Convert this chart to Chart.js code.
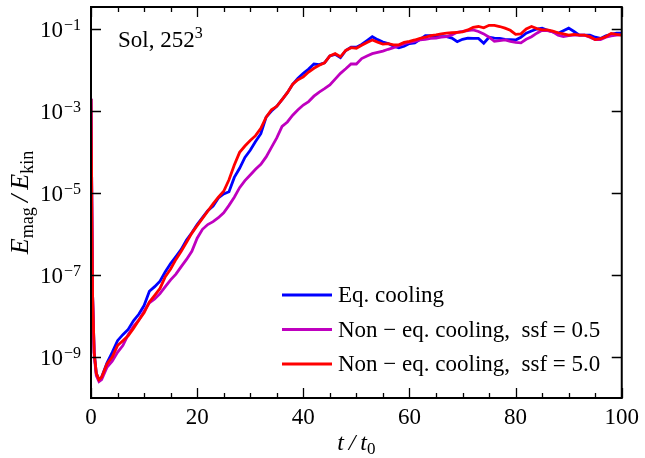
<!DOCTYPE html>
<html>
<head>
<meta charset="utf-8">
<script src="https://cdn.jsdelivr.net/npm/chart.js@4"></script>
<style>
  body { margin: 0; background: #fff; }
  canvas { display: block; }
</style>
</head>
<body>
<canvas id="chart" width="645" height="458"></canvas>
<script>
// t / t0
const times = [0, 0.3, 0.6, 1, 1.5, 2,
  3, 4, 5, 6, 7, 8, 9, 10,
  11, 12, 13, 14, 15, 16, 17, 18, 19, 20,
  21, 22, 23, 24, 25, 26, 27, 28, 29, 30,
  31, 32, 33, 34, 35, 36, 37, 38, 39, 40,
  41, 42, 43, 44, 45, 46, 47, 48, 49, 50,
  51, 52, 53, 54, 55, 56, 57, 58, 59, 60,
  61, 62, 63, 64, 65, 66, 67, 68, 69, 70,
  71, 72, 73, 74, 75, 76, 77, 78, 79, 80,
  81, 82, 83, 84, 85, 86, 87, 88, 89, 90,
  91, 92, 93, 94, 95, 96, 97, 98, 99, 100];

// E_mag / E_kin
const eqCooling = [2.0e-3, 3.2e-8, 1.3e-9, 4.0e-10, 2.8e-10, 3.2e-10,
  7.1e-10, 1.3e-9, 2.5e-9, 3.5e-9, 4.7e-9, 7.6e-9, 1.1e-8, 1.8e-8,
  4.0e-8, 5.2e-8, 7.1e-8, 1.2e-7, 1.9e-7, 2.8e-7, 4.2e-7, 7.1e-7, 1.07e-6, 1.7e-6,
  2.5e-6, 3.7e-6, 4.8e-6, 7.6e-6, 9.5e-6, 1.07e-5, 2.4e-5, 4.0e-5, 7.4e-5, 1.1e-4,
  1.8e-4, 2.8e-4, 7.1e-4, 1.0e-3, 1.3e-3, 1.9e-3, 2.8e-3, 4.5e-3, 6.3e-3, 8.3e-3,
  1.05e-2, 1.4e-2, 1.35e-2, 1.5e-2, 2.2e-2, 2.4e-2, 2.0e-2, 3.0e-2, 3.6e-2, 3.6e-2,
  4.2e-2, 5.2e-2, 6.5e-2, 5.5e-2, 4.8e-2, 4.4e-2, 3.8e-2, 3.5e-2, 3.8e-2, 4.4e-2,
  4.6e-2, 5.6e-2, 6.9e-2, 6.9e-2, 6.6e-2, 6.5e-2, 6.5e-2, 6.0e-2, 4.9e-2, 5.6e-2,
  6.0e-2, 5.9e-2, 5.9e-2, 4.5e-2, 6.3e-2, 6.0e-2, 5.9e-2, 5.6e-2, 5.5e-2, 5.4e-2,
  6.3e-2, 7.9e-2, 8.9e-2, 0.100, 0.105, 9.3e-2, 8.5e-2, 7.9e-2, 9.1e-2, 0.105,
  8.7e-2, 7.1e-2, 7.1e-2, 7.1e-2, 6.3e-2, 5.9e-2, 6.8e-2, 7.4e-2, 7.9e-2, 7.9e-2];

const nonEqSsf05 = [2.0e-3, 3.2e-8, 1.1e-9, 3.5e-10, 2.5e-10, 2.8e-10,
  5.6e-10, 7.9e-10, 1.3e-9, 1.9e-9, 3.5e-9, 5.6e-9, 7.9e-9, 1.3e-8,
  2.1e-8, 2.6e-8, 3.5e-8, 5.2e-8, 7.6e-8, 1.05e-7, 1.6e-7, 2.4e-7, 3.8e-7, 7.9e-7,
  1.3e-6, 1.7e-6, 2.0e-6, 2.5e-6, 3.3e-6, 5.0e-6, 7.9e-6, 1.35e-5, 2.0e-5, 2.75e-5,
  3.8e-5, 5.0e-5, 7.6e-5, 1.3e-4, 2.2e-4, 4.2e-4, 5.4e-4, 7.9e-4, 1.07e-3, 1.4e-3,
  1.7e-3, 2.3e-3, 2.9e-3, 3.5e-3, 4.3e-3, 6.0e-3, 8.3e-3, 1.07e-2, 1.4e-2, 1.4e-2,
  1.9e-2, 2.2e-2, 2.5e-2, 2.7e-2, 2.9e-2, 3.2e-2, 3.5e-2, 3.9e-2, 4.4e-2, 4.7e-2,
  5.0e-2, 5.4e-2, 5.6e-2, 5.9e-2, 6.0e-2, 6.3e-2, 6.5e-2, 7.2e-2, 8.3e-2, 8.7e-2,
  9.1e-2, 9.5e-2, 8.7e-2, 7.6e-2, 6.3e-2, 5.0e-2, 5.2e-2, 5.4e-2, 5.0e-2, 4.7e-2,
  4.6e-2, 5.6e-2, 6.5e-2, 7.9e-2, 9.3e-2, 9.1e-2, 8.5e-2, 7.1e-2, 6.5e-2, 6.9e-2,
  7.1e-2, 7.1e-2, 7.1e-2, 6.3e-2, 5.5e-2, 5.5e-2, 6.3e-2, 6.8e-2, 7.1e-2, 7.2e-2];

const nonEqSsf50 = [2.0e-3, 3.2e-8, 1.3e-9, 4.0e-10, 2.8e-10, 3.2e-10,
  6.8e-10, 1.0e-9, 1.9e-9, 2.5e-9, 3.3e-9, 5.0e-9, 7.9e-9, 1.2e-8,
  2.2e-8, 3.2e-8, 4.7e-8, 9.1e-8, 1.4e-7, 2.4e-7, 3.8e-7, 6.3e-7, 1.05e-6, 1.6e-6,
  2.4e-6, 3.6e-6, 5.4e-6, 7.9e-6, 1.1e-5, 2.1e-5, 4.8e-5, 9.8e-5, 1.4e-4, 1.9e-4,
  2.5e-4, 3.8e-4, 7.1e-4, 1.07e-3, 1.3e-3, 1.9e-3, 2.8e-3, 4.5e-3, 5.8e-3, 6.8e-3,
  8.9e-3, 1.1e-2, 1.3e-2, 1.5e-2, 2.2e-2, 2.5e-2, 2.1e-2, 3.0e-2, 3.5e-2, 3.4e-2,
  4.0e-2, 4.7e-2, 5.4e-2, 4.8e-2, 4.3e-2, 4.4e-2, 4.1e-2, 4.1e-2, 4.7e-2, 5.0e-2,
  5.4e-2, 5.9e-2, 6.3e-2, 6.9e-2, 7.2e-2, 7.6e-2, 7.9e-2, 8.1e-2, 8.3e-2, 8.5e-2,
  9.5e-2, 0.110, 0.115, 0.107, 0.123, 0.123, 0.115, 0.105, 9.3e-2, 7.4e-2,
  7.6e-2, 0.100, 0.115, 0.102, 9.5e-2, 9.5e-2, 8.9e-2, 8.1e-2, 7.6e-2, 7.1e-2,
  7.4e-2, 7.1e-2, 7.1e-2, 6.5e-2, 5.5e-2, 5.8e-2, 6.5e-2, 7.8e-2, 7.4e-2, 7.1e-2];

const seriesLabels = ['Eq. cooling', 'Non \u2212 eq. cooling,  ssf = 0.5', 'Non \u2212 eq. cooling,  ssf = 5.0'];
const seriesColors = ['#0000ff', '#bf00bf', '#ff0000'];

const xTicks = [0, 20, 40, 60, 80, 100];
const yTickValues = [1e-9, 1e-7, 1e-5, 1e-3, 1e-1];
const yTickExponents = ['\u22129', '\u22127', '\u22125', '\u22123', '\u22121'];

const SERIF = '"Liberation Serif", "Times New Roman", serif';

function toPoints(values) {
    return times.map((t, i) => ({ x: t, y: values[i] }));
}

// frame, inward ticks, tick labels with exponents, titles, legend
const decorPlugin = {
    id: 'decor',
    afterDraw(chart) {
        const ctx = chart.ctx;
        const a = chart.chartArea;
        const xs = chart.scales.x;
        const ys = chart.scales.y;
        ctx.save();
        ctx.strokeStyle = '#000';
        ctx.fillStyle = '#000';

        // x ticks (major every 20, minor every 5)
        ctx.lineWidth = 1.3;
        ctx.beginPath();
        for (let v = xs.min; v <= xs.max; v += 5) {
            const px = Math.round(xs.getPixelForValue(v)) + 0.5;
            const len = xTicks.includes(v) ? 10 : 5;
            ctx.moveTo(px, a.bottom); ctx.lineTo(px, a.bottom - len);
            ctx.moveTo(px, a.top); ctx.lineTo(px, a.top + len);
        }
        ys.ticks.forEach(t => {
            const py = Math.round(ys.getPixelForValue(t.value)) + 0.5;
            ctx.moveTo(a.left, py); ctx.lineTo(a.left + 10, py);
            ctx.moveTo(a.right, py); ctx.lineTo(a.right - 10, py);
        });
        ctx.stroke();

        ctx.lineWidth = 2;
        ctx.strokeRect(a.left, a.top, a.right - a.left, a.bottom - a.top);

        // y tick labels: 10^n
        ctx.textBaseline = 'alphabetic';
        ctx.textAlign = 'left';
        ys.ticks.forEach((t, i) => {
            const py = ys.getPixelForValue(t.value);
            const exp = yTickExponents[i];
            ctx.font = '16px ' + SERIF;
            const we = ctx.measureText(exp).width;
            ctx.font = '23px ' + SERIF;
            const wb = ctx.measureText('10').width;
            const right = a.left - 10;
            ctx.fillText('10', right - we - wb - 1, py + 8);
            ctx.font = '16px ' + SERIF;
            ctx.fillText(exp, right - we, py + 1);
        });

        // x title: t / t0
        ctx.font = 'italic 24px ' + SERIF;
        const part1 = 't\u2009/\u2009t';
        const w1 = ctx.measureText(part1).width;
        ctx.font = '17px ' + SERIF;
        const w0 = ctx.measureText('0').width;
        const cx = (a.left + a.right) / 2;
        const sx = cx - (w1 + w0) / 2;
        ctx.font = 'italic 24px ' + SERIF;
        ctx.fillText(part1, sx, 450);
        ctx.font = '17px ' + SERIF;
        ctx.fillText('0', sx + w1, 454);

        // y title: E_mag / E_kin
        ctx.save();
        ctx.translate(28, (a.top + a.bottom) / 2);
        ctx.rotate(-Math.PI / 2);
        const parts = [
            { s: 'E', f: 'italic 26px ' + SERIF, dy: 0 },
            { s: 'mag', f: '18px ' + SERIF, dy: 5 },
            { s: '\u2009/\u2009', f: 'italic 26px ' + SERIF, dy: 0 },
            { s: 'E', f: 'italic 26px ' + SERIF, dy: 0 },
            { s: 'kin', f: '18px ' + SERIF, dy: 5 }
        ];
        let total = 0;
        parts.forEach(p => { ctx.font = p.f; p.w = ctx.measureText(p.s).width; total += p.w; });
        let px = -total / 2;
        parts.forEach(p => { ctx.font = p.f; ctx.fillText(p.s, px, p.dy); px += p.w; });
        ctx.restore();

        // annotation: Sol, 252^3
        ctx.font = '23px ' + SERIF;
        ctx.fillText('Sol, 252', a.left + 27, 47);
        const ws = ctx.measureText('Sol, 252').width;
        ctx.font = '16px ' + SERIF;
        ctx.fillText('3', a.left + 27 + ws, 38);

        // legend
        ctx.font = '23px ' + SERIF;
        ctx.textBaseline = 'middle';
        chart.data.datasets.forEach((ds, i) => {
            const ly = 295 + i * 34.5;
            ctx.strokeStyle = ds.borderColor;
            ctx.lineWidth = 3;
            ctx.beginPath();
            ctx.moveTo(282, ly); ctx.lineTo(332, ly);
            ctx.stroke();
            ctx.fillStyle = '#000';
            ctx.fillText(ds.label, 338, ly + 1);
        });

        ctx.restore();
    }
};

new Chart(document.getElementById('chart'), {
    type: 'line',
    data: {
        datasets: [
            { label: seriesLabels[0], data: toPoints(eqCooling), borderColor: seriesColors[0], order: 2 },
            { label: seriesLabels[1], data: toPoints(nonEqSsf05), borderColor: seriesColors[1], order: 1 },
            { label: seriesLabels[2], data: toPoints(nonEqSsf50), borderColor: seriesColors[2], order: 0 }
        ]
    },
    options: {
        responsive: false,
        animation: false,
        devicePixelRatio: 1,
        layout: { padding: { top: 7, right: 20, left: 0, bottom: 0 } },
        elements: {
            line: { borderWidth: 2.8, tension: 0 },
            point: { radius: 0 }
        },
        plugins: {
            legend: { display: false },
            tooltip: { enabled: false }
        },
        scales: {
            x: {
                type: 'linear',
                min: 0,
                max: 100,
                grid: { display: false, drawTicks: false },
                border: { display: false },
                ticks: {
                    stepSize: 20,
                    padding: 6,
                    color: '#000',
                    font: { family: SERIF, size: 23 }
                },
                afterFit: scale => { scale.height = 60; }
            },
            y: {
                type: 'logarithmic',
                min: 1e-10,
                max: 0.344,
                grid: { display: false, drawTicks: false },
                border: { display: false },
                ticks: { display: false },
                afterBuildTicks: scale => { scale.ticks = yTickValues.map(v => ({ value: v })); },
                afterFit: scale => { scale.width = 91; }
            }
        }
    },
    plugins: [decorPlugin]
});
</script>
</body>
</html>
